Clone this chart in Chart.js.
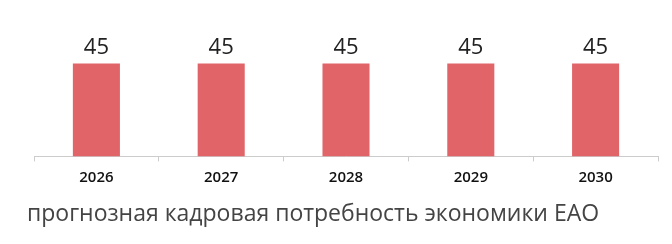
<!DOCTYPE html>
<html><head><meta charset="utf-8">
<script src="https://cdn.jsdelivr.net/npm/chart.js@4"></script>
<style>html,body{margin:0;padding:0;background:#fff}#wrap{width:672px;height:244px}</style>
</head><body><div id="wrap"><canvas id="c"></canvas></div>
<script>
const categories = ['2026','2027','2028','2029','2030'];
const values = [45,45,45,45,45];
const titleText = 'прогнозная кадровая потребность экономики ЕАО';
const FONT = '"Open Sans", sans-serif';

const labelPlugin = {
  id: 'vals',
  afterDatasetsDraw(chart) {
    const ctx = chart.ctx;
    const meta = chart.getDatasetMeta(0);
    ctx.save();
    ctx.font = '400 22px ' + FONT;
    ctx.fillStyle = '#222';
    ctx.textAlign = 'center';
    ctx.textBaseline = 'alphabetic';
    meta.data.forEach((bar, i) => {
      ctx.fillText(String(values[i]), bar.x, bar.y - 10);
    });
    ctx.restore();
  }
};

new Chart(document.getElementById('c'), {
  type: 'bar',
  data: { labels: categories, datasets: [{ data: values, backgroundColor: '#e06468', borderWidth: 0, barPercentage: 0.377, categoryPercentage: 1 }] },
  options: {
    responsive: true, maintainAspectRatio: false, animation: false,
    layout: { padding: { left: 27, right: 14, top: 12, bottom: 16 } },
    plugins: {
      legend: { display: false }, tooltip: { enabled: false },
      title: { display: true, text: titleText, position: 'bottom', align: 'start', color: '#444',
               font: { family: FONT, size: 23, weight: '400' }, padding: { top: 7, bottom: 0 } }
    },
    scales: {
      x: {
        grid: { display: true, drawOnChartArea: false, tickLength: 5, color: '#cccccc', offset: true },
        border: { display: true, color: '#cccccc' },
        ticks: { color: '#111', font: { family: FONT, size: 15, weight: '600' }, padding: 7 }
      },
      y: {
        min: 0, max: 70, display: true,
        grid: { display: false }, border: { display: false }, ticks: { display: false },
        afterFit(s) { s.width = 7; }
      }
    }
  },
  plugins: [labelPlugin]
});
</script></body></html>
